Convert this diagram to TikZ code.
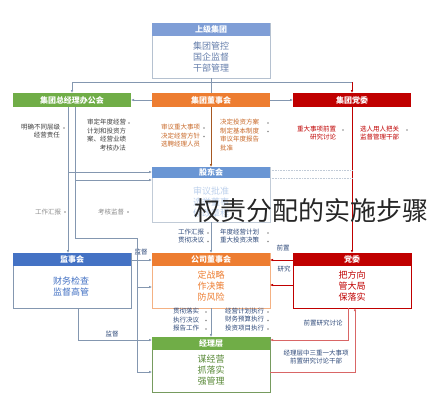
\documentclass[tikz,border=0pt]{standalone}
\usepackage{fontspec}
\newfontfamily\cjk{Noto Sans CJK SC}
\usetikzlibrary{arrows.meta,calc}
\definecolor{cblue}{HTML}{4472C4}
\definecolor{ctop}{HTML}{7F9ED6}
\definecolor{clblue}{HTML}{6A96D4}
\definecolor{corange}{HTML}{ED7D31}
\definecolor{cred}{HTML}{C00000}
\definecolor{cgreen}{HTML}{70AD47}
\definecolor{cline}{HTML}{8497B0}
\definecolor{ctxt}{HTML}{2F4A7A}
\definecolor{cgray}{HTML}{8C8C8C}
\begin{document}
\begin{tikzpicture}[x=1pt,y=-1pt,
 every node/.style={font=\cjk, inner sep=0pt, outer sep=0pt},
 boxbody/.style={draw=#1, line width=0.6pt, anchor=north west, minimum width=118pt, minimum height=55pt, fill=white},
 hdr/.style={fill=#1, anchor=north west, minimum width=118pt, minimum height=13pt, text=white, font=\cjk\fontsize{8}{9}\selectfont\bfseries},
 bodytxt/.style={align=center, font=\cjk\fontsize{9}{11}\selectfont, text=#1},
 smallr/.style={align=right, font=\cjk\fontsize{6.5}{8.5}\selectfont, text=#1},
 smalll/.style={align=left, font=\cjk\fontsize{6.5}{8.5}\selectfont, text=#1},
 bul/.style={circle, fill=#1, minimum size=1.6pt},
 conn/.style={draw=cline, line width=0.6pt},
 arr/.style={conn, -{Latex[length=3pt,width=2.6pt]}},
]
\path[use as bounding box, fill=white] (0,0) rectangle (429,400);

% top box
\node[boxbody=cline!60] (tb) at (152,23) {};
\node[hdr=ctop] (tbh) at (152,23) {上级集团};
\node[bodytxt=ctop!80!black] (tbt) at (211,57) {集团管控\\国企监督\\干部管理};

% row 2 headers
\node[hdr=cgreen, minimum height=14pt] (gh) at (13,93) {集团总经理办公会};
\node[hdr=corange, minimum height=14pt] (oh) at (152,93) {集团董事会};
\node[hdr=cred, minimum height=14pt] (rh) at (293,93) {集团党委};

% row 2 texts
\node[smallr=black!75, anchor=north east] (gt1) at (60,124) {明确不同层级\\经营责任};
\node[bul=cgray] (gb1) at (64,128) {};
\node[smallr=black!75, anchor=north east] (gt2) at (126,119) {审定年度经营\\计划和投资方\\案、经营业绩\\考核办法};
\node[bul=cgray] (gb2) at (129,123) {};

\node[smallr=corange!85!black, anchor=north east] (ot1) at (200,124) {审议重大事项\\决定经营方针\\选聘经理人员};
\node[bul=cgray] (ob1) at (204,128) {};
\node[bul=cgray] (ob2) at (204,136.5) {};
\node[smalll=corange!85!black, anchor=north west] (ot2) at (220,119) {决定投资方案\\制定基本制度\\审议年度报告\\批准};
\node[bul=cgray] (ob3) at (268,123) {};
\node[bul=cgray] (ob4) at (268,131.5) {};

\node[smallr=cred, anchor=north east] (rt1) at (336,126) {重大事项前置\\研究讨论};
\node[bul=cgray] (rb1) at (343,130) {};
\node[smallr=cred, anchor=north east] (rt2) at (399,126) {选人用人把关\\监督管理干部};
\node[bul=cgray] (rb2) at (407,130) {};

% row 3: shareholders
\node[boxbody=cline!50] (sh) at (152,167) {};
\node[hdr=clblue, minimum height=11pt] (shh) at (152,167) {股东会};
\node[bodytxt=clblue!45] (sht) at (211,202) {审议批准\\选举董事\\修改章程};

\node[smallr=cgray, anchor=east] (lt1) at (61,212) {工作汇报};
\node[bul=cgray] (lb1) at (65,212) {};
\node[smallr=cgray, anchor=east] (lt2) at (124,212) {考核监督};
\node[bul=cgray] (lb2) at (128,212) {};

\node[smallr=ctxt, anchor=north east] (mt1) at (204,229) {工作汇报\\贯彻决议};
\node[bul=cgray] (mb1) at (208,233) {};
\node[bul=cgray] (mb2) at (208,241.5) {};
\node[smalll=ctxt, anchor=north west] (mt2) at (220,229) {年度经营计划\\重大投资决策};
\node[bul=cgray] (mb3) at (268,233) {};
\node[bul=cgray] (mb4) at (268,241.5) {};

% row 4
\node[boxbody=cline] (js) at (13,253) {};
\node[hdr=cblue] (jsh) at (13,253) {监事会};
\node[bodytxt=cblue] (jst) at (71,287) {财务检查\\监督高管};

\node[boxbody=corange!60] (db) at (152,253) {};
\node[hdr=corange] (dbh) at (152,253) {公司董事会};
\node[bodytxt=corange] (dbt) at (211,286) {定战略\\作决策\\防风险};

\node[boxbody=cred] (dw) at (293,253) {};
\node[hdr=cred] (dwh) at (293,253) {党委};
\node[bodytxt=cred] (dwt) at (352,286) {把方向\\管大局\\保落实};

% row 4-5 labels
\node[smallr=ctxt, anchor=north east] (bt1) at (199,308) {贯彻落实\\执行决议\\报告工作};
\node[bul=cgray] (bb1) at (206,312) {};
\node[bul=cgray] (bb2) at (206,320.5) {};
\node[bul=cgray] (bb3) at (206,329) {};
\node[smalll=ctxt, anchor=north west] (bt2) at (225,308) {经营计划执行\\财务预算执行\\投资项目执行};
\node[bul=cgray] (bb4) at (268,312) {};
\node[bul=cgray] (bb5) at (268,320.5) {};
\node[bul=cgray] (bb6) at (268,329) {};

% row 5
\node[boxbody=cgreen!60!gray] (jl) at (152,337) {};
\node[hdr=cgreen] (jlh) at (152,337) {经理层};
\node[bodytxt=cgreen!80!black] (jlt) at (211,370) {谋经营\\抓落实\\强管理};

% connector labels
\node[smallr=ctxt] (l1) at (141,252) {监督};
\node[smallr=ctxt] (l2) at (283,248) {前置};
\node[smallr=ctxt] (l3) at (284,269) {研究};
\node[smallr=ctxt] (l4) at (112,334) {监督};
\node[smallr=ctxt] (l5) at (323,323) {前置研究讨论};
\node[smalll=ctxt, align=center] (l6) at (316,357) {经理层中三重一大事项\\前置研究讨论干部};

% coordinates
\coordinate (busL) at (72,82);
\coordinate (busR) at (352,82);
\coordinate (g1) at (68,107);
\coordinate (g2) at (75,107);
\coordinate (s1) at (152,172);
\coordinate (s2) at (152,180);
\coordinate (k1) at (137,238);
\coordinate (d1) at (152,287);
\coordinate (j1) at (152,372);
\coordinate (r1) at (352,170);
\coordinate (r2) at (352,178);

% connectors
\draw[conn] (tb.south) -- (oh.north);
\draw[conn] (busL) -- (busR);
\draw[arr] (busL) -- (gh.north);
\draw[arr, draw=cred] (busR) -- (rh.north);
\draw[arr] (oh.west) -- (gh.east);
\draw[arr] (oh.east) -- (rh.west);
\draw[arr, draw=corange!70!black] (oh.south) -- (sh.north);

\draw[arr] (g1) |- (s1);
\draw[arr] (g1) -- (g1 |- js.north);
\draw[arr] (g2) |- (s2);
\draw[conn] (g2) |- (k1);
\draw[arr] (k1) |- (j1);
\draw[arr] (k1 |- d1) -- (d1);

\draw[arr, draw=cred] (rh.south) -- (dw.north);
\draw[draw=cline!50, densely dotted, line width=0.6pt] ($(sh.north east)+(0,3)$) -- (r1);
\draw[draw=cline!50, densely dotted, line width=0.6pt] ($(sh.north east)+(0,11)$) -- (r2);

\draw[arr] (sh.south) -- (db.north);
\draw[arr] ($(js.north east)+(0,7)$) -- ($(db.north west)+(0,7)$);
\draw[arr, draw=cred] ($(dw.north west)+(0,7)$) -- ($(db.north east)+(0,7)$);
\draw[arr, draw=cred] ($(dw.north west)+(0,32)$) -- ($(db.north east)+(0,32)$);

\draw[arr] ($(js.south west)+(65,0)$) |- ($(jl.north west)+(0,3)$);
\draw[arr] (db.south) -- (jl.north);
\draw[arr, draw=cred!60] ($(dw.south west)+(55,0)$) |- ($(jl.north east)+(0,3)$);
\draw[arr, draw=cred!60] ($(jl.north east)+(0,35)$) -| ($(dw.south west)+(62,0)$);

% overlay title
\node[font=\cjk\fontsize{26}{26}\selectfont, text=black!85] (title) at (311,211) {权责分配的实施步骤};
\end{tikzpicture}
\end{document}
